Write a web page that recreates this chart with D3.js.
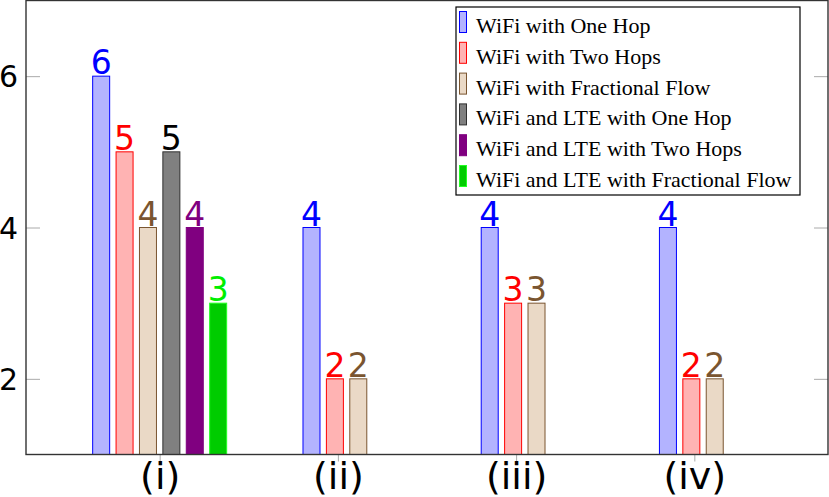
<!DOCTYPE html>
<html>
<head>
<meta charset="utf-8">
<script src="https://cdn.jsdelivr.net/npm/d3@7"></script>
<style>
  body { margin: 0; background: #fff; }
  svg { display: block; }
</style>
</head>
<body>
<div id="container"></div>
<script>
// data
const categories = ["(i)", "(ii)", "(iii)", "(iv)"];
const seriesNames = [
    "WiFi with One Hop",
    "WiFi with Two Hops",
    "WiFi with Fractional Flow",
    "WiFi and LTE with One Hop",
    "WiFi and LTE with Two Hops",
    "WiFi and LTE with Fractional Flow"
];
const wifiOneHop = [6, 4, 4, 4];
const wifiTwoHops = [5, 2, 3, 2];
const wifiFractional = [4, 2, 3, 2];
const lteOneHop = [5, null, null, null];
const lteTwoHops = [4, null, null, null];
const lteFractional = [3, null, null, null];
const yTicks = [2, 4, 6];

const seriesValues = [wifiOneHop, wifiTwoHops, wifiFractional, lteOneHop, lteTwoHops, lteFractional];

// styles
const FILLS = ["#b3b3ff", "#ffb3b3", "#ead9c6", "#808080", "#800080", "#00cc00"];
const STROKES = ["#0000ff", "#ff0000", "#7a5530", "#303030", "#800080", "#22ff22"];
const LABEL_COLORS = ["#0000ff", "#ff0000", "#7a5530", "#000000", "#800080", "#00ee00"];

const WIDTH = 829;
const HEIGHT = 497;
const LEFT = 26, RIGHT = 828, TOP = 0.5, BOTTOM = 454.5;
const BAR_STEP = 23.4;
const BAR_WIDTH = 17;

const canvas = d3.select("#container")
    .append("svg")
    .attr("width", WIDTH)
    .attr("height", HEIGHT);

const xScale = d3.scalePoint()
    .domain(categories)
    .range([LEFT, RIGHT])
    .padding(0.75);

const yScale = d3.scaleLinear()
    .domain([1, 7])
    .range([BOTTOM, TOP]);

// left axis with inward ticks
const leftAxis = d3.axisLeft(yScale)
    .tickValues(yTicks)
    .tickSize(-14)
    .tickPadding(8)
    .tickFormat(d3.format("d"));

const gLeft = canvas.append("g")
    .attr("transform", "translate(" + LEFT + ",0)")
    .call(leftAxis);
gLeft.select(".domain").remove();
gLeft.selectAll(".tick line").attr("stroke", "#aaaaaa");
gLeft.selectAll(".tick text")
    .attr("font-family", "DejaVu Sans, sans-serif")
    .attr("font-size", 30)
    .attr("fill", "#000")
    .attr("dy", "0.36em");

// right axis, ticks only
const rightAxis = d3.axisRight(yScale)
    .tickValues(yTicks)
    .tickSize(-14)
    .tickFormat("");

const gRight = canvas.append("g")
    .attr("transform", "translate(" + RIGHT + ",0)")
    .call(rightAxis);
gRight.select(".domain").remove();
gRight.selectAll(".tick line").attr("stroke", "#aaaaaa");

// bottom axis
const bottomAxis = d3.axisBottom(xScale)
    .tickSize(7);

const gBottom = canvas.append("g")
    .attr("transform", "translate(0," + BOTTOM + ")")
    .call(bottomAxis);
gBottom.select(".domain").remove();
gBottom.selectAll(".tick line").attr("stroke", "#aaaaaa");
gBottom.selectAll(".tick text")
    .attr("font-family", "DejaVu Sans, sans-serif")
    .attr("font-size", 38)
    .attr("fill", "#000")
    .attr("dy", null)
    .attr("y", 34.5);

// bars
const barData = [];
categories.forEach((cat, ci) => {
    const present = seriesValues
        .map((vals, si) => ({ si: si, v: vals[ci] }))
        .filter((d) => d.v !== null);
    const shift = present.length < seriesValues.length ? -3 : 0;
    const center = xScale(cat) + shift;
    const half = present.length * BAR_STEP / 2;
    const inner = d3.scaleBand()
        .domain(present.map((d) => d.si))
        .range([center - half, center + half])
        .paddingInner(1 - BAR_WIDTH / BAR_STEP)
        .paddingOuter((1 - BAR_WIDTH / BAR_STEP) / 2);
    present.forEach((d) => {
        barData.push({ cat: cat, si: d.si, v: d.v, x: inner(d.si), w: inner.bandwidth() });
    });
});

canvas.append("g")
    .selectAll("rect")
    .data(barData)
    .enter()
    .append("rect")
    .attr("x", (d) => d.x)
    .attr("y", (d) => yScale(d.v))
    .attr("width", (d) => d.w)
    .attr("height", (d) => yScale(1) - yScale(d.v))
    .attr("fill", (d) => FILLS[d.si])
    .attr("stroke", (d) => STROKES[d.si])
    .attr("stroke-width", 1);

// value labels
canvas.append("g")
    .selectAll("text")
    .data(barData)
    .enter()
    .append("text")
    .attr("x", (d) => d.x + d.w / 2)
    .attr("y", (d) => yScale(d.v) - 2)
    .attr("text-anchor", "middle")
    .attr("font-family", "DejaVu Sans, sans-serif")
    .attr("font-size", 33)
    .attr("fill", (d) => LABEL_COLORS[d.si])
    .text((d) => d.v);

// frame
canvas.append("rect")
    .attr("x", LEFT)
    .attr("y", TOP)
    .attr("width", RIGHT - LEFT)
    .attr("height", BOTTOM - TOP)
    .attr("fill", "none")
    .attr("stroke", "#333333")
    .attr("stroke-width", 1.4);

// legend
const legend = canvas.append("g")
    .attr("transform", "translate(456,7)");

legend.append("rect")
    .attr("width", 344)
    .attr("height", 188)
    .attr("fill", "#fff")
    .attr("stroke", "#000")
    .attr("stroke-width", 1.2);

const rows = legend.selectAll("g.row")
    .data(seriesNames)
    .enter()
    .append("g")
    .attr("class", "row")
    .attr("transform", (d, i) => "translate(0," + (26 + i * 30.8) + ")");

rows.append("rect")
    .attr("x", 3.5)
    .attr("y", -21.5)
    .attr("width", 7)
    .attr("height", 21)
    .attr("fill", (d, i) => FILLS[i])
    .attr("stroke", (d, i) => STROKES[i])
    .attr("stroke-width", 1);

rows.append("text")
    .attr("x", 20)
    .attr("y", 0)
    .attr("font-family", "Liberation Serif, serif")
    .attr("font-size", 22)
    .attr("fill", "#000")
    .text((d) => d);
</script>
</body>
</html>
